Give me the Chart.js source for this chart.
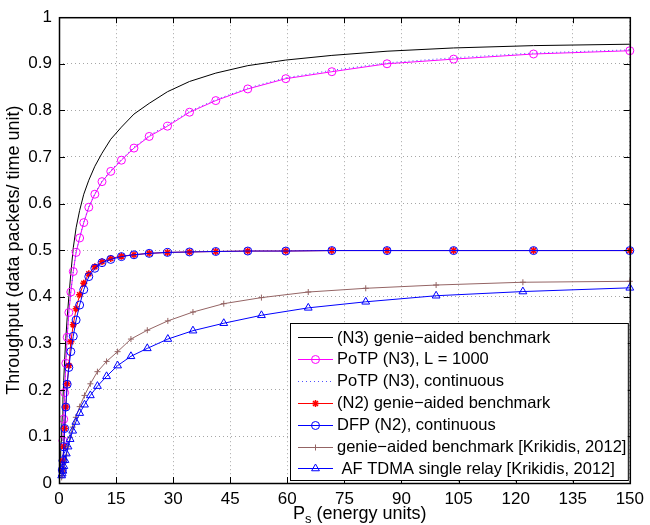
<!DOCTYPE html>
<html>
<head>
<meta charset="utf-8">
<script src="https://cdn.jsdelivr.net/npm/chart.js@4"></script>
<style>
  body { margin: 0; background: #fff; }
  canvas { display: block; }
</style>
</head>
<body>
<canvas id="chart" width="650" height="525"></canvas>
<script>
// tick values / labels
const xTicks = [0, 15, 30, 45, 60, 75, 90, 105, 120, 135, 150];
const xTickLabels = ['0', '15', '30', '45', '60', '75', '90', '105', '120', '135', '150'];
const yTicks = [0, 0.1, 0.2, 0.3, 0.4, 0.5, 0.6, 0.7, 0.8, 0.9, 1];
const yTickLabels = ['0', '0.1', '0.2', '0.3', '0.4', '0.5', '0.6', '0.7', '0.8', '0.9', '1'];

const seriesLabels = [
  '(N3) genie\u2212aided benchmark',
  'PoTP (N3), L = 1000',
  'PoTP (N3), continuous',
  '(N2) genie\u2212aided benchmark',
  'DFP (N2), continuous',
  'genie\u2212aided benchmark [Krikidis, 2012]',
  ' AF TDMA single relay [Krikidis, 2012]'
];

// P_s values (energy units)
const xN3Genie = [0.34, 0.41, 0.49, 0.59, 0.71, 0.86, 1.03, 1.24, 1.49, 1.79, 2.15, 2.59, 3.11, 3.75, 4.50, 5.42, 6.51, 7.83, 9.42, 11.3, 13.6, 16.4, 19.7, 23.7, 28.5, 34.3, 41.2, 49.6, 59.6, 71.7, 86.2, 103.7, 124.7, 150];
const yN3Genie = [0.03, 0.05, 0.07, 0.09, 0.115, 0.145, 0.18, 0.22, 0.265, 0.31, 0.355, 0.40, 0.45, 0.505, 0.548, 0.585, 0.620, 0.650, 0.680, 0.708, 0.738, 0.764, 0.792, 0.815, 0.840, 0.862, 0.880, 0.896, 0.908, 0.918, 0.927, 0.934, 0.939, 0.942];

const xPoTP = [1.03, 1.24, 1.49, 1.79, 2.15, 2.59, 3.11, 3.75, 4.50, 5.42, 6.51, 7.83, 9.42, 11.3, 13.6, 16.4, 19.7, 23.7, 28.5, 34.3, 41.2, 49.6, 59.6, 71.7, 86.2, 103.7, 124.7, 150];
const yPoTPL1000 = [0.091, 0.137, 0.194, 0.257, 0.313, 0.366, 0.410, 0.454, 0.495, 0.526, 0.559, 0.592, 0.620, 0.647, 0.669, 0.693, 0.719, 0.744, 0.766, 0.796, 0.821, 0.846, 0.868, 0.883, 0.900, 0.910, 0.921, 0.928];
const yPoTPCont = [0.091, 0.138, 0.195, 0.258, 0.314, 0.367, 0.411, 0.455, 0.496, 0.527, 0.560, 0.593, 0.621, 0.648, 0.671, 0.695, 0.721, 0.746, 0.769, 0.798, 0.823, 0.848, 0.870, 0.886, 0.902, 0.913, 0.923, 0.930];

const xN2 = [0.86, 1.03, 1.24, 1.49, 1.79, 2.15, 2.59, 3.11, 3.75, 4.50, 5.42, 6.51, 7.83, 9.42, 11.3, 13.6, 16.4, 19.7, 23.7, 28.5, 34.3, 41.2, 49.6, 59.6, 71.7, 86.2, 103.7, 124.7, 150];
const yN2Genie = [0.028, 0.048, 0.078, 0.117, 0.163, 0.213, 0.252, 0.303, 0.340, 0.374, 0.404, 0.429, 0.449, 0.464, 0.475, 0.482, 0.487, 0.490, 0.493, 0.495, 0.496, 0.497, 0.498, 0.498, 0.499, 0.499, 0.499, 0.499, 0.499];
const yDFP = [0.028, 0.048, 0.078, 0.117, 0.163, 0.212, 0.248, 0.282, 0.315, 0.350, 0.382, 0.415, 0.443, 0.461, 0.473, 0.480, 0.486, 0.490, 0.493, 0.495, 0.496, 0.497, 0.498, 0.498, 0.499, 0.499, 0.499, 0.499, 0.499];

const xKrikidis = [0.69, 0.84, 1.04, 1.28, 1.57, 1.93, 2.38, 2.92, 3.60, 4.43, 5.44, 6.70, 8.24, 10.1, 12.5, 15.4, 18.9, 23.2, 28.6, 35.2, 43.3, 53.2, 65.5, 80.6, 99.1, 121.9, 150];
const yKrikidisGenie = [0.012, 0.016, 0.022, 0.031, 0.044, 0.060, 0.078, 0.098, 0.120, 0.141, 0.164, 0.188, 0.213, 0.239, 0.261, 0.282, 0.309, 0.328, 0.348, 0.367, 0.385, 0.398, 0.410, 0.418, 0.425, 0.431, 0.433];
const yAFTDMA = [0.016, 0.020, 0.026, 0.036, 0.049, 0.063, 0.078, 0.094, 0.112, 0.131, 0.150, 0.168, 0.188, 0.208, 0.229, 0.252, 0.272, 0.289, 0.309, 0.327, 0.343, 0.360, 0.376, 0.389, 0.402, 0.411, 0.419];

const FONT = '"Liberation Sans", Arial, Helvetica, sans-serif';
const none = 'rgba(0,0,0,0)';

function pts(xs, ys) {
  return xs.map((x, i) => ({ x: x, y: ys[i] }));
}

const datasets = [
  { label: seriesLabels[0], data: pts(xN3Genie, yN3Genie), borderColor: '#000000', borderWidth: 1, pointRadius: 0, order: 6 },
  { label: seriesLabels[1], data: pts(xPoTP, yPoTPL1000), borderColor: '#ff00ff', borderWidth: 1,
    pointStyle: 'circle', pointRadius: 4, pointBorderWidth: 1, pointBorderColor: '#ff00ff', pointBackgroundColor: none, order: 5 },
  { label: seriesLabels[2], data: pts(xPoTP, yPoTPCont), borderColor: '#5050ff', borderWidth: 1, borderDash: [1, 3], pointRadius: 0, order: 4 },
  { label: seriesLabels[3], data: pts(xN2, yN2Genie), borderColor: '#ff0000', borderWidth: 1,
    pointStyle: 'star', pointRadius: 3.5, pointBorderWidth: 1.5, pointBorderColor: '#ff0000', pointBackgroundColor: '#ff0000', order: 3 },
  { label: seriesLabels[4], data: pts(xN2, yDFP), borderColor: '#0000ff', borderWidth: 1,
    pointStyle: 'circle', pointRadius: 4, pointBorderWidth: 1, pointBorderColor: '#0000ff', pointBackgroundColor: none, order: 2 },
  { label: seriesLabels[5], data: pts(xKrikidis, yKrikidisGenie), borderColor: '#946464', borderWidth: 1,
    pointStyle: 'cross', pointRadius: 3, pointBorderWidth: 1, pointBorderColor: '#946464', pointBackgroundColor: none, order: 1 },
  { label: seriesLabels[6], data: pts(xKrikidis, yAFTDMA), borderColor: '#0000ff', borderWidth: 1,
    pointStyle: 'triangle', pointRadius: 4.5, pointBorderWidth: 1, pointBorderColor: '#0000ff', pointBackgroundColor: none, order: 0 }
];
datasets.forEach(d => { d.fill = false; d.tension = 0; d.clip = false; });

function drawMarker(ctx, style, x, y, r) {
  ctx.beginPath();
  if (style === 'circle') {
    ctx.arc(x, y, r, 0, Math.PI * 2);
  } else if (style === 'triangle') {
    let rad = 0;
    ctx.moveTo(x + Math.sin(rad) * r, y - Math.cos(rad) * r);
    rad += Math.PI * 2 / 3;
    ctx.lineTo(x + Math.sin(rad) * r, y - Math.cos(rad) * r);
    rad += Math.PI * 2 / 3;
    ctx.lineTo(x + Math.sin(rad) * r, y - Math.cos(rad) * r);
    ctx.closePath();
  } else if (style === 'cross' || style === 'star') {
    ctx.moveTo(x - r, y); ctx.lineTo(x + r, y);
    ctx.moveTo(x, y - r); ctx.lineTo(x, y + r);
    if (style === 'star') {
      const d = r * Math.SQRT1_2;
      ctx.moveTo(x - d, y - d); ctx.lineTo(x + d, y + d);
      ctx.moveTo(x - d, y + d); ctx.lineTo(x + d, y - d);
    }
  }
  ctx.stroke();
}

const framePlugin = {
  id: 'frame',
  afterDatasetsDraw(chart) {
    const { ctx, chartArea: a, scales } = chart;
    ctx.save();
    ctx.strokeStyle = '#000';
    ctx.lineWidth = 1;
    ctx.beginPath();
    xTicks.forEach(v => {
      const px = Math.round(scales.x.getPixelForValue(v)) + 0.5;
      ctx.moveTo(px, a.bottom); ctx.lineTo(px, a.bottom - 6);
      ctx.moveTo(px, a.top); ctx.lineTo(px, a.top + 6);
    });
    yTicks.forEach(v => {
      const py = Math.round(scales.y.getPixelForValue(v)) + 0.5;
      ctx.moveTo(a.left, py); ctx.lineTo(a.left + 6, py);
      ctx.moveTo(a.right, py); ctx.lineTo(a.right - 6, py);
    });
    ctx.stroke();
    ctx.lineWidth = 1.5;
    ctx.strokeRect(a.left + 0.5, a.top + 0.5, a.right - a.left, a.bottom - a.top);
    ctx.restore();
  },
  afterDraw(chart) {
    const { ctx, chartArea: a } = chart;
    ctx.save();
    // legend box
    const lx = 290, ly = 323, lw = a.right - 2 - lx, lh = a.bottom - 3 - ly;
    ctx.fillStyle = '#fff';
    ctx.fillRect(lx, ly, lw, lh);
    ctx.strokeStyle = '#000';
    ctx.lineWidth = 1;
    ctx.strokeRect(lx + 0.5, ly + 0.5, lw, lh);
    ctx.font = '16.5px ' + FONT;
    ctx.textBaseline = 'middle';
    ctx.textAlign = 'left';
    datasets.forEach((d, i) => {
      const cy = 337 + i * 21.9;
      ctx.strokeStyle = d.borderColor;
      ctx.lineWidth = 1;
      ctx.setLineDash(d.borderDash || []);
      ctx.beginPath();
      ctx.moveTo(298, Math.round(cy) + 0.5);
      ctx.lineTo(333, Math.round(cy) + 0.5);
      ctx.stroke();
      ctx.setLineDash([]);
      if (d.pointRadius > 0) {
        ctx.strokeStyle = d.pointBorderColor;
        ctx.lineWidth = d.pointBorderWidth;
        drawMarker(ctx, d.pointStyle, 315.5, Math.round(cy) + 0.5, d.pointRadius);
      }
      ctx.fillStyle = '#000';
      ctx.fillText(d.label, 337, cy + 1);
    });
    // axis titles
    ctx.fillStyle = '#000';
    ctx.font = '18px ' + FONT;
    ctx.textBaseline = 'alphabetic';
    let tx = 293;
    const ty = 519;
    ctx.fillText('P', tx, ty);
    tx += ctx.measureText('P').width;
    ctx.font = '13px ' + FONT;
    ctx.fillText('s', tx, ty + 4);
    tx += ctx.measureText('s').width;
    ctx.font = '18px ' + FONT;
    ctx.fillText(' (energy units)', tx, ty);
    ctx.translate(14, (a.top + a.bottom) / 2);
    ctx.rotate(-Math.PI / 2);
    ctx.textAlign = 'center';
    ctx.textBaseline = 'middle';
    ctx.fillText('Throughput (data packets/ time unit)', 0, 0);
    ctx.restore();
  }
};

const gridOpts = { color: '#a6a6a6', lineWidth: 1, drawTicks: false };

new Chart(document.getElementById('chart'), {
  type: 'line',
  data: { datasets: datasets },
  options: {
    responsive: false,
    animation: false,
    devicePixelRatio: 1,
    layout: { padding: { left: 0, top: 12, right: 15, bottom: 0 } },
    plugins: { legend: { display: false }, tooltip: { enabled: false } },
    scales: {
      x: {
        type: 'linear', min: 0, max: 150,
        grid: gridOpts,
        border: { display: false, dash: [1, 3] },
        afterBuildTicks: s => { s.ticks = xTicks.map(v => ({ value: v })); },
        afterFit: s => { s.height = 42; },
        ticks: { color: '#000', font: { family: FONT, size: 17 }, padding: 6, maxRotation: 0,
          callback: v => xTickLabels[xTicks.indexOf(v)] }
      },
      y: {
        type: 'linear', min: 0, max: 1,
        grid: gridOpts,
        border: { display: false, dash: [1, 3] },
        afterBuildTicks: s => { s.ticks = yTicks.map(v => ({ value: v })); },
        afterFit: s => { s.width = 59; },
        ticks: { color: '#000', font: { family: FONT, size: 17 }, padding: 7,
          callback: v => yTickLabels[yTicks.findIndex(t => Math.abs(t - v) < 1e-9)] }
      }
    }
  },
  plugins: [framePlugin]
});
</script>
</body>
</html>
